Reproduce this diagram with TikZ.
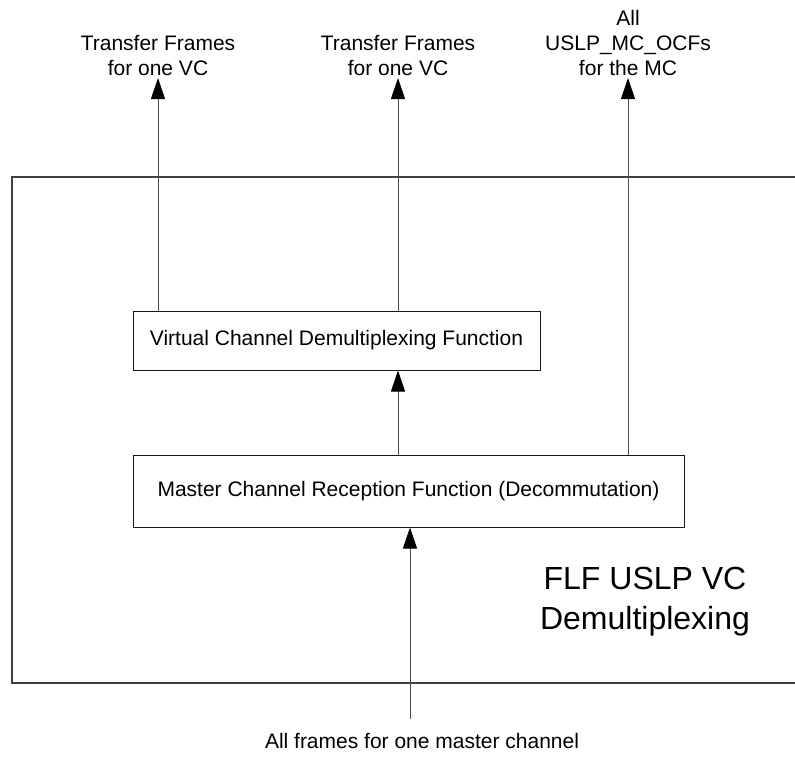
\documentclass[tikz,border=0pt]{standalone}
\usepackage{fontspec}
\setmainfont{Liberation Sans}
\usetikzlibrary{arrows.meta}
\begin{document}
\begin{tikzpicture}[x=1pt,y=-1pt,
  lbl/.style={font=\fontsize{21}{25}\selectfont, align=center, inner sep=0pt},
  fbox/.style={draw=black!90, line width=1pt, rectangle, inner sep=0pt, font=\fontsize{21}{25}\selectfont},
  conn/.style={draw=black!70, line width=1pt, -{Triangle[length=21pt,width=14pt,color=black]}}
]
\useasboundingbox (0,0) rectangle (795,756);
% outer frame (right edge beyond the picture)
\node[draw=black!75, line width=1.6pt, rectangle, inner sep=0pt,
      minimum width=785pt, minimum height=506pt] (outer) at (404.5,430) {};
\node[font=\fontsize{32}{40}\selectfont, align=center, inner sep=0pt] (title) at (645,602) {FLF USLP VC\\Demultiplexing};
% boxes
\node[fbox, minimum width=407pt, minimum height=59pt] (vc) at (336.5,340.5) {Virtual Channel Demultiplexing Function};
\node[fbox, minimum width=551pt, minimum height=72pt] (mc) at (408.5,491) {Master Channel Reception Function (Decommutation)};
% top labels
\node[lbl] (l1) at (158,55.5) {Transfer Frames\\for one VC};
\node[lbl] (l2) at (398,55.5) {Transfer Frames\\for one VC};
\node[lbl] (l3) at (628,43) {All\\USLP\_MC\_OCFs\\for the MC};
\node[lbl] (lin) at (422,741) {All frames for one master channel};
\coordinate (t1) at (158,78);
\coordinate (t2) at (398,78);
\coordinate (t3) at (628,78);
\coordinate (src) at (410,719);
% connectors
\draw[conn] (vc.north -| t1) -- (t1);
\draw[conn] (vc.north -| t2) -- (t2);
\draw[conn] (mc.north -| t3) -- (t3);
\draw[conn] (mc.north -| t2) -- (vc.south -| t2);
\draw[conn] (src) -- (mc.south -| src);
\end{tikzpicture}
\end{document}
